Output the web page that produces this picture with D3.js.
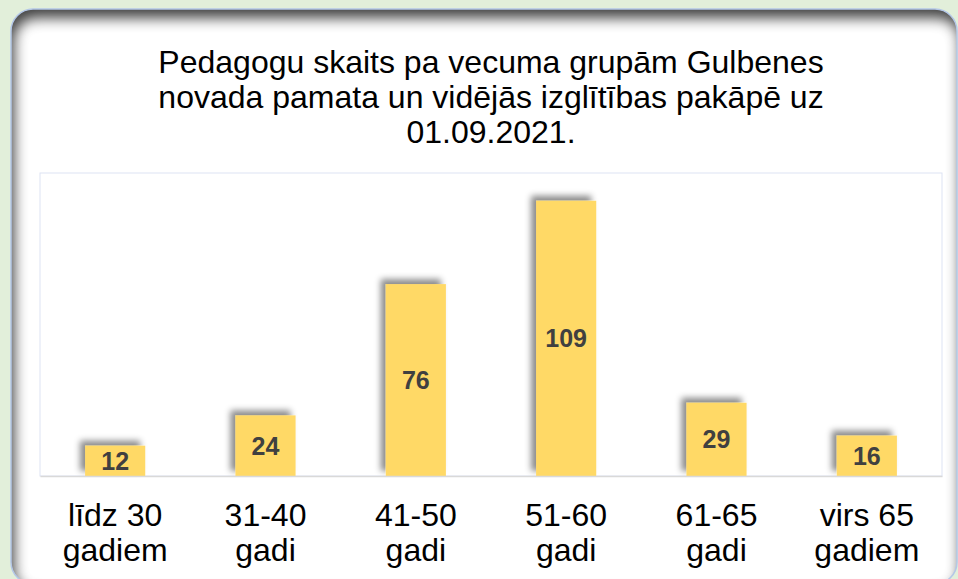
<!DOCTYPE html>
<html>
<head>
<meta charset="utf-8">
<script src="https://cdn.jsdelivr.net/npm/d3@7"></script>
<style>
  html, body { margin: 0; padding: 0; background: #e2efda; }
  svg { display: block; font-family: "Liberation Sans", Arial, sans-serif; }
</style>
</head>
<body>
<div class="chart"></div>
<script>
const titleLines = [
  'Pedagogu skaits pa vecuma grupām Gulbenes',
  'novada pamata un vidējās izglītības pakāpē uz',
  '01.09.2021.'
];
const categories = [
  ['līdz 30', 'gadiem'],
  ['31-40', 'gadi'],
  ['41-50', 'gadi'],
  ['51-60', 'gadi'],
  ['61-65', 'gadi'],
  ['virs 65', 'gadiem']
];
const values = [12, 24, 76, 109, 29, 16];
const yMax = 120;

const width = 958;
const height = 579;

const panel = { x: 11, y: 9, w: 946, h: 575, r: 22 };
const plot = { left: 40, top: 173, right: 942, bottom: 476 };

const svg = d3
  .select('.chart')
  .append('svg')
  .attr('width', width)
  .attr('height', height);

const defs = svg.append('defs');

defs
  .append('clipPath')
  .attr('id', 'panel-clip')
  .append('rect')
  .attr('x', panel.x)
  .attr('y', panel.y)
  .attr('width', panel.w)
  .attr('height', panel.h)
  .attr('rx', panel.r);

const blur = defs.append('filter').attr('id', 'inner-blur')
  .attr('x', '-10%').attr('y', '-10%').attr('width', '120%').attr('height', '120%');
blur.append('feGaussianBlur').attr('stdDeviation', 7);

const barShadow = defs.append('filter').attr('id', 'bar-shadow')
  .attr('x', '-50%').attr('y', '-50%').attr('width', '200%').attr('height', '200%');
barShadow
  .append('feDropShadow')
  .attr('dx', -5)
  .attr('dy', -5)
  .attr('stdDeviation', 3)
  .attr('flood-color', '#000')
  .attr('flood-opacity', 0.45);

// background panel
svg
  .append('rect')
  .attr('x', panel.x)
  .attr('y', panel.y)
  .attr('width', panel.w)
  .attr('height', panel.h)
  .attr('rx', panel.r)
  .attr('fill', '#fff');

// inner shadow along the top / left edge
const outer = 'M-100,-100H1100V800H-100Z';
const hole =
  'M' + (panel.x + panel.r) + ',' + panel.y +
  'H' + (panel.x + panel.w - panel.r) +
  'A' + panel.r + ',' + panel.r + ' 0 0 1 ' + (panel.x + panel.w) + ',' + (panel.y + panel.r) +
  'V' + (panel.y + panel.h - panel.r) +
  'A' + panel.r + ',' + panel.r + ' 0 0 1 ' + (panel.x + panel.w - panel.r) + ',' + (panel.y + panel.h) +
  'H' + (panel.x + panel.r) +
  'A' + panel.r + ',' + panel.r + ' 0 0 1 ' + panel.x + ',' + (panel.y + panel.h - panel.r) +
  'V' + (panel.y + panel.r) +
  'A' + panel.r + ',' + panel.r + ' 0 0 1 ' + (panel.x + panel.r) + ',' + panel.y + 'Z';

svg
  .append('g')
  .attr('clip-path', 'url(#panel-clip)')
  .append('path')
  .attr('d', outer + hole)
  .attr('fill-rule', 'evenodd')
  .attr('fill', '#000')
  .attr('opacity', 0.75)
  .attr('transform', 'translate(3,9)')
  .attr('filter', 'url(#inner-blur)');

svg
  .append('rect')
  .attr('x', panel.x)
  .attr('y', panel.y)
  .attr('width', panel.w)
  .attr('height', panel.h)
  .attr('rx', panel.r)
  .attr('fill', 'none')
  .attr('stroke', '#b4c7e7')
  .attr('stroke-width', 1.5);

// title
svg
  .append('text')
  .attr('x', 491)
  .attr('y', 73)
  .attr('text-anchor', 'middle')
  .attr('font-size', 32)
  .attr('fill', '#000')
  .selectAll('tspan')
  .data(titleLines)
  .enter()
  .append('tspan')
  .attr('x', 491)
  .attr('dy', (d, i) => (i ? 35 : 0))
  .text(d => d);

// plot area
svg
  .append('rect')
  .attr('x', plot.left)
  .attr('y', plot.top)
  .attr('width', plot.right - plot.left)
  .attr('height', plot.bottom - plot.top)
  .attr('fill', '#fff')
  .attr('stroke', '#dde3f3')
  .attr('stroke-width', 1);

const x = d3
  .scaleBand()
  .domain(d3.range(values.length))
  .range([plot.left, plot.right])
  .paddingInner(0.6)
  .paddingOuter(0.3);

const y = d3.scaleLinear().domain([0, yMax]).range([plot.bottom, plot.top]);

svg
  .append('g')
  .attr('class', 'bars')
  .selectAll('rect')
  .data(values)
  .enter()
  .append('rect')
  .attr('x', (d, i) => x(i))
  .attr('y', d => y(d))
  .attr('width', x.bandwidth())
  .attr('height', d => y(0) - y(d))
  .attr('fill', '#ffd966')
  .attr('filter', 'url(#bar-shadow)');

const xAxis = d3.axisBottom(x).tickSize(0).tickFormat('');

svg
  .append('g')
  .attr('class', 'axis axis--x')
  .attr('transform', 'translate(0,' + plot.bottom + ')')
  .call(xAxis)
  .call(g => g.select('.domain').attr('stroke', '#d9d9d9').attr('stroke-width', 1.5));

// category labels
svg
  .append('g')
  .selectAll('text')
  .data(categories)
  .enter()
  .append('text')
  .attr('text-anchor', 'middle')
  .attr('font-size', 32)
  .attr('fill', '#000')
  .each(function(d, i) {
    d3.select(this)
      .selectAll('tspan')
      .data(d)
      .enter()
      .append('tspan')
      .attr('x', x(i) + x.bandwidth() / 2)
      .attr('y', (t, j) => 526 + j * 35)
      .text(t => t);
  });

// value labels
svg
  .append('g')
  .selectAll('text')
  .data(values)
  .enter()
  .append('text')
  .attr('x', (d, i) => x(i) + x.bandwidth() / 2)
  .attr('y', d => (y(d) + y(0)) / 2 + 9)
  .attr('text-anchor', 'middle')
  .attr('font-size', 25)
  .attr('font-weight', 'bold')
  .attr('fill', '#404040')
  .text(d => d);
</script>
</body>
</html>
